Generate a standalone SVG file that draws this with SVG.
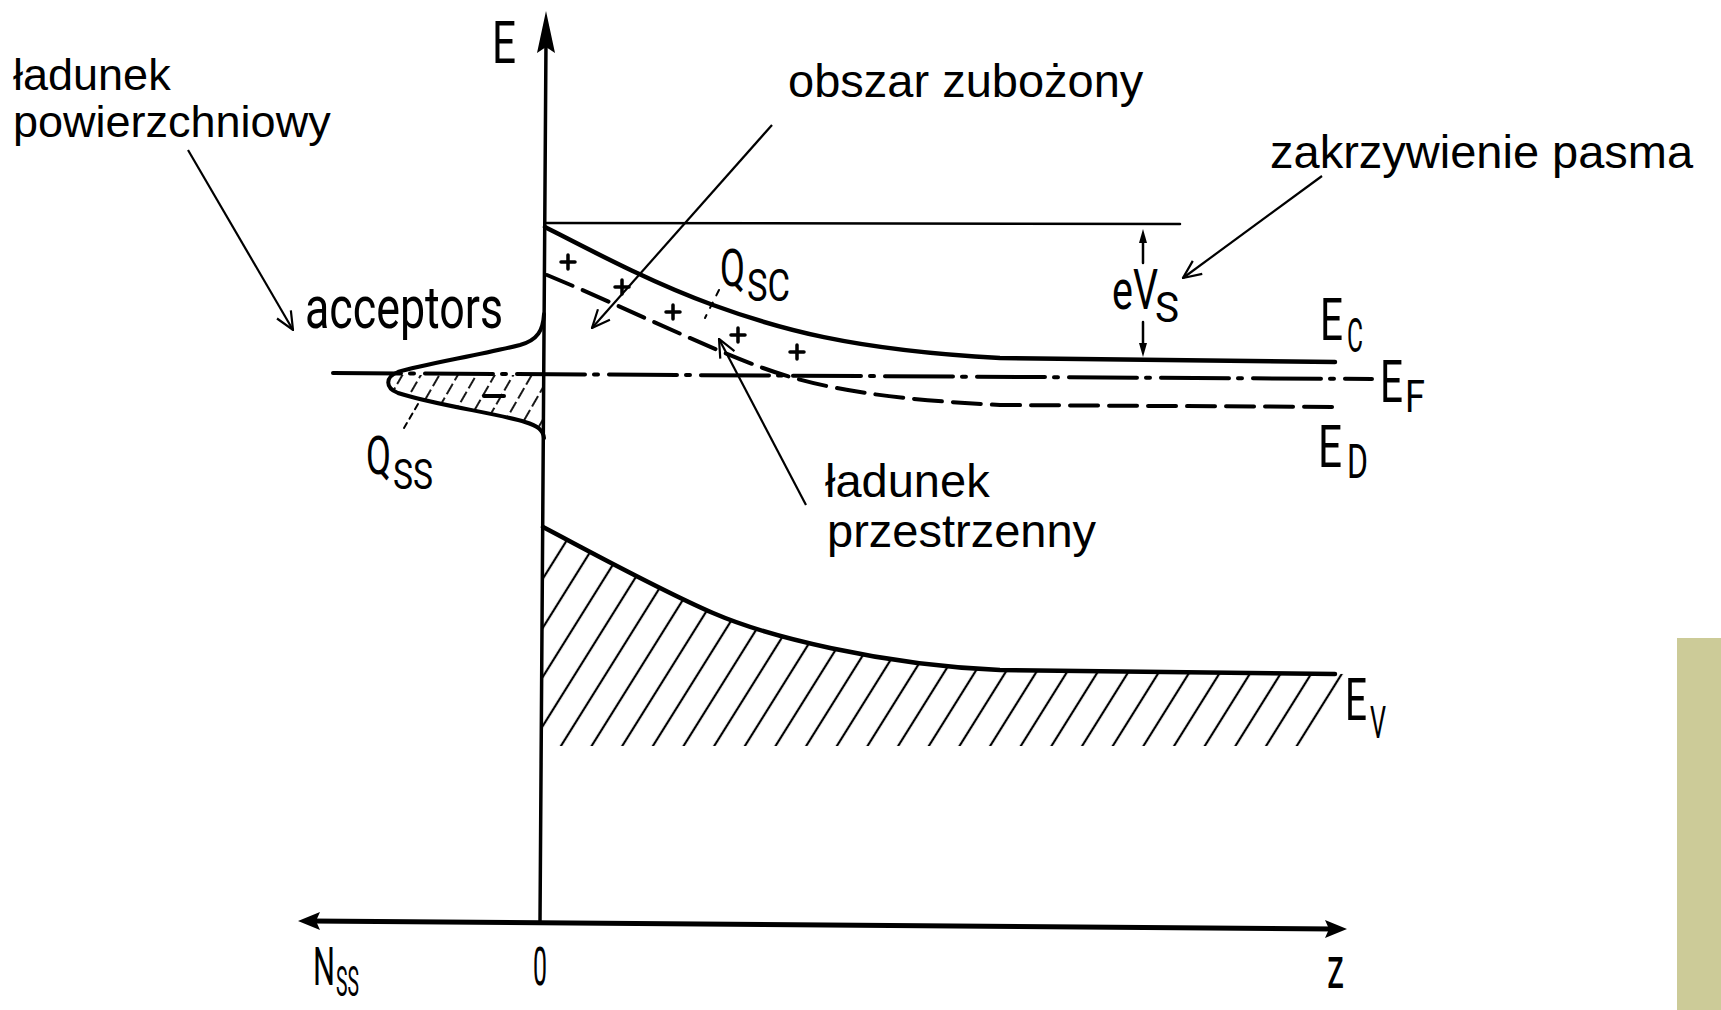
<svg xmlns="http://www.w3.org/2000/svg" width="1721" height="1010" viewBox="0 0 1721 1010">
<style>
.pl{font-family:"Liberation Sans",Arial,sans-serif;font-size:47px;fill:#000}
.t{font-family:Roboto,"DejaVu Sans",sans-serif;font-weight:400;fill:#000}
.big{font-size:60px}
.sub{font-size:48px}
.ln{fill:none;stroke:#000;stroke-linecap:round;stroke-linejoin:round}
.ptr{fill:none;stroke:#000;stroke-width:2.2}
</style>
<defs>
<marker id="open" viewBox="0 0 20 20" refX="19" refY="10" markerWidth="20" markerHeight="20" markerUnits="userSpaceOnUse" orient="auto">
<path d="M1,2 L19,10 L1,18" fill="none" stroke="#000" stroke-width="2.2"/>
</marker>
<pattern id="hatch" width="26" height="26" patternUnits="userSpaceOnUse" patternTransform="rotate(32)">
<line x1="13" y1="0" x2="13" y2="26" stroke="#000" stroke-width="2.2"/>
</pattern>
<pattern id="hatch2" width="16" height="16" patternUnits="userSpaceOnUse" patternTransform="rotate(30)">
<line x1="8" y1="0" x2="8" y2="16" stroke="#000" stroke-width="1.8" stroke-dasharray="6 4"/>
</pattern>
<clipPath id="evclip">
<path d="M 543 527 C 600 557, 660 590, 713 613 S 880 665, 1000 670 L 1346 674 L 1308 746 L 543 746 Z"/>
</clipPath>
<clipPath id="ssclip">
<path d="M 390 375 L 544 375 L 544 438 C 543 430, 538 426, 525 422 C 500 414, 430 404, 398 393 C 388 388, 386 380, 390 375 Z"/>
</clipPath>
</defs>
<rect width="1721" height="1010" fill="#fff"/>
<rect x="1677" y="638" width="44" height="372" fill="#CCCB98"/>

<g id="axes">
<line class="ln" x1="546" y1="40" x2="540" y2="923" stroke-width="3.5"/>
<polygon points="546,11 537,53 546,47 555,53" fill="#000"/>
<line class="ln" x1="311" y1="921" x2="1334" y2="929" stroke-width="5"/>
<polygon points="298,921 320,912 316,921 320,930" fill="#000"/>
<polygon points="1347,929 1325,920 1329,929 1325,938" fill="#000"/>
<text class="t big" x="492" y="63" textLength="24" lengthAdjust="spacingAndGlyphs">E</text>
<text class="t" font-size="54" x="313" y="985" textLength="22" lengthAdjust="spacingAndGlyphs">N</text>
<text class="t" font-size="42" x="336" y="996" textLength="23" lengthAdjust="spacingAndGlyphs">SS</text>
<text class="t" font-size="54" x="533" y="985" textLength="14" lengthAdjust="spacingAndGlyphs">0</text>
<text class="t big" x="1327" y="988" textLength="17" lengthAdjust="spacingAndGlyphs">z</text>
</g>

<g id="surface-states">
<rect x="380" y="370" width="170" height="75" fill="url(#hatch2)" clip-path="url(#ssclip)"/>
<path class="ln" stroke-width="4" d="M 544 314 C 543 330, 538 340, 520 345 C 480 355, 420 365, 398 372 C 385 377, 385 388, 398 393 C 430 404, 500 414, 525 422 C 538 426, 543 430, 544 438"/>
<line class="ln" x1="484" y1="396" x2="504" y2="396" stroke-width="4"/>
<line class="ln" x1="418" y1="404" x2="404" y2="428" stroke-width="2" stroke-dasharray="6 5"/>
<text class="t" x="305" y="328" textLength="198" lengthAdjust="spacingAndGlyphs" style="font-size:59px">acceptors</text>
<text class="t" font-size="54" x="366" y="474" textLength="25" lengthAdjust="spacingAndGlyphs">Q</text>
<text class="t" font-size="43" x="393" y="489" textLength="40" lengthAdjust="spacingAndGlyphs">SS</text>
</g>

<g id="conduction-band">
<line class="ln" x1="545" y1="223" x2="1180" y2="224" stroke-width="2.5"/>
<path class="ln" stroke-width="4.5" d="M 545 227 C 590 250, 650 282, 713 305 S 850 350, 1000 358 L 1335 362"/>
<text class="t big" x="1320" y="340" textLength="23" lengthAdjust="spacingAndGlyphs">E</text>
<text class="t sub" x="1347" y="352" textLength="16" lengthAdjust="spacingAndGlyphs">C</text>
</g>

<g id="band-bending">
<line class="ln" x1="1143" y1="263" x2="1143" y2="238" stroke-width="2.5"/>
<polygon points="1143,229 1139,243 1147,243" fill="#000"/>
<line class="ln" x1="1143" y1="322" x2="1143" y2="346" stroke-width="2.5"/>
<polygon points="1143,357 1139,343 1147,343" fill="#000"/>
<text class="t" font-size="56" x="1112" y="309" textLength="46" lengthAdjust="spacingAndGlyphs">eV</text>
<text class="t" font-size="42" x="1155" y="322" textLength="24" lengthAdjust="spacingAndGlyphs">S</text>
</g>

<g id="space-charge">
<g class="ln" stroke-width="3.5">
<path d="M561 262 h14 M568 255 v14"/>
<path d="M615 287 h14 M622 280 v14"/>
<path d="M666 312 h14 M673 305 v14"/>
<path d="M731 335 h14 M738 328 v14"/>
<path d="M790 352 h14 M797 345 v14"/>
</g>
<line class="ln" x1="719" y1="290" x2="705" y2="318" stroke-width="2" stroke-dasharray="6 8"/>
<text class="t" font-size="52" x="720" y="286" textLength="25" lengthAdjust="spacingAndGlyphs">Q</text>
<text class="t" font-size="45" x="747" y="301" textLength="43" lengthAdjust="spacingAndGlyphs">SC</text>
</g>

<g id="fermi-level">
<line class="ln" x1="333" y1="373" x2="1372" y2="379" stroke-width="4" stroke-linecap="butt" stroke-dasharray="68 9 4 11"/>
<text class="t big" x="1380" y="402" textLength="23" lengthAdjust="spacingAndGlyphs">E</text>
<text class="t" font-size="45" x="1405" y="412" textLength="20" lengthAdjust="spacingAndGlyphs">F</text>
</g>

<g id="donor-level">
<path class="ln" stroke-width="4" stroke-linecap="butt" stroke-dasharray="28 11" d="M 547 275 C 620 305, 700 345, 763 368 S 900 400, 1000 405 L 1335 407"/>
<text class="t big" x="1318" y="467" textLength="24" lengthAdjust="spacingAndGlyphs">E</text>
<text class="t sub" x="1347" y="478" textLength="21" lengthAdjust="spacingAndGlyphs">D</text>
</g>

<g id="valence-band">
<rect x="540" y="520" width="815" height="230" fill="url(#hatch)" clip-path="url(#evclip)"/>
<path class="ln" stroke-width="4.5" d="M 543 527 C 600 557, 660 590, 713 613 S 880 665, 1000 670 L 1335 674"/>
<text class="t big" x="1345" y="720" textLength="22" lengthAdjust="spacingAndGlyphs">E</text>
<text class="t" font-size="45" x="1370" y="738" textLength="16" lengthAdjust="spacingAndGlyphs">V</text>
</g>

<g id="label-surface-charge">
<text class="pl" x="13" y="90" style="font-size:45px">ładunek</text>
<text class="pl" x="13" y="137" style="font-size:45px">powierzchniowy</text>
</g>
<g id="label-depletion">
<text class="pl" x="788" y="97">obszar zubożony</text>
</g>
<g id="label-band-bending">
<text class="pl" x="1270" y="168">zakrzywienie pasma</text>
</g>
<g id="label-space-charge">
<text class="pl" x="825" y="497">ładunek</text>
<text class="pl" x="827" y="547">przestrzenny</text>
</g>

<g id="connectors">
<line class="ptr" x1="188" y1="150" x2="293" y2="330" marker-end="url(#open)"/>
<line class="ptr" x1="772" y1="125" x2="592" y2="328" marker-end="url(#open)"/>
<line class="ptr" x1="1322" y1="176" x2="1183" y2="278" marker-end="url(#open)"/>
<line class="ptr" x1="806" y1="505" x2="719" y2="339" marker-end="url(#open)"/>
</g>
</svg>
